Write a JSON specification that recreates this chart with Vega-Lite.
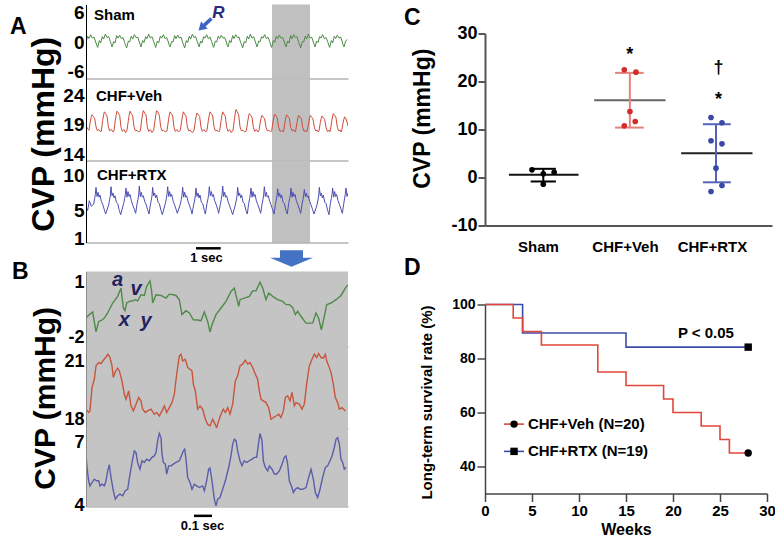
{
"$schema": "https://vega.github.io/schema/vega-lite/v6.json",
"padding": {"left": 10, "top": 3.5, "right": 0, "bottom": 0},
"background": "white",
"config": {
  "font": "Liberation Sans",
  "view": {"stroke": null},
  "axis": {"grid": false, "labelColor": "#000", "titleColor": "#000", "labelFontWeight": "bold", "titleFontWeight": "bold", "labelOverlap": false, "labelFlush": false, "labelBound": false},
  "point": {"opacity": 1},
  "text": {"color": "#000"}
},
"datasets": {
"sham": [{"x":0,"v":-0.1},{"x":5,"v":1.2},{"x":9,"v":0.7},{"x":14,"v":1.5},{"x":19,"v":0.8},{"x":24,"v":1.0},{"x":29,"v":0.0},{"x":32,"v":-0.6},
{"x":35,"v":-1.1},{"x":40,"v":0.3},{"x":44,"v":-0.2},{"x":49,"v":1.1},{"x":53,"v":0.6},{"x":58,"v":1.6},{"x":63,"v":0.9},{"x":68,"v":1.1},{"x":73,"v":0.1},{"x":76,"v":-0.5},
{"x":78,"v":-1.0},{"x":83,"v":0.1},{"x":87,"v":-0.2},{"x":92,"v":1.3},{"x":96,"v":0.8},{"x":101,"v":1.4},{"x":106,"v":0.7},{"x":111,"v":0.9},{"x":116,"v":-0.1},{"x":119,"v":-0.7},
{"x":122,"v":-1.2},{"x":127,"v":0.2},{"x":131,"v":0.0},{"x":136,"v":1.2},{"x":140,"v":0.6},{"x":145,"v":1.5},{"x":150,"v":0.9},{"x":155,"v":1.0},{"x":160,"v":0.0},{"x":163,"v":-0.6},
{"x":165,"v":-1.0},{"x":170,"v":0.3},{"x":174,"v":-0.1},{"x":179,"v":1.1},{"x":183,"v":0.7},{"x":188,"v":1.6},{"x":193,"v":0.8},{"x":198,"v":1.1},{"x":203,"v":0.1},{"x":206,"v":-0.5},
{"x":209,"v":-1.1},{"x":214,"v":0.2},{"x":218,"v":-0.2},{"x":223,"v":1.2},{"x":227,"v":0.8},{"x":232,"v":1.5},{"x":237,"v":0.7},{"x":242,"v":0.9},{"x":247,"v":0.0},{"x":250,"v":-0.7},
{"x":252,"v":-1.0},{"x":257,"v":0.1},{"x":261,"v":0.0},{"x":266,"v":1.3},{"x":270,"v":0.7},{"x":275,"v":1.4},{"x":280,"v":0.8},{"x":285,"v":1.0},{"x":290,"v":-0.1},{"x":293,"v":-0.6},
{"x":296,"v":-1.2},{"x":301,"v":0.3},{"x":305,"v":-0.1},{"x":310,"v":1.2},{"x":314,"v":0.6},{"x":319,"v":1.6},{"x":324,"v":0.9},{"x":329,"v":1.1},{"x":334,"v":0.0},{"x":337,"v":-0.5},
{"x":339,"v":-1.0},{"x":344,"v":0.2},{"x":348,"v":-0.2},{"x":353,"v":1.1},{"x":357,"v":0.8},{"x":362,"v":1.5},{"x":367,"v":0.7},{"x":372,"v":1.0},{"x":377,"v":0.1},{"x":380,"v":-0.6},
{"x":383,"v":-1.1},{"x":388,"v":0.2},{"x":392,"v":0.0},{"x":397,"v":1.2},{"x":401,"v":0.7},{"x":406,"v":1.4},{"x":411,"v":0.8},{"x":416,"v":0.9},{"x":421,"v":0.0},{"x":424,"v":-0.7},
{"x":426,"v":-1.0},{"x":431,"v":0.3},{"x":435,"v":-0.1},{"x":440,"v":1.3},{"x":444,"v":0.7},{"x":449,"v":1.5},{"x":454,"v":0.9},{"x":459,"v":1.0},{"x":464,"v":-0.1},{"x":467,"v":-0.6},
{"x":470,"v":-1.2},{"x":475,"v":0.1},{"x":479,"v":-0.2},{"x":484,"v":1.2},{"x":488,"v":0.6},{"x":493,"v":1.6},{"x":498,"v":0.8},{"x":503,"v":1.1},{"x":508,"v":0.0},{"x":511,"v":-0.5},
{"x":513,"v":-1.0},{"x":518,"v":0.2},{"x":522,"v":0.0},{"x":527,"v":1.1},{"x":531,"v":0.8},{"x":536,"v":1.5},{"x":541,"v":0.7},{"x":546,"v":1.0},{"x":551,"v":0.1},{"x":554,"v":-0.6},
{"x":557,"v":-1.1},{"x":562,"v":0.3},{"x":566,"v":-0.1},{"x":571,"v":1.2},{"x":575,"v":0.7},{"x":580,"v":1.4},{"x":585,"v":0.8},{"x":590,"v":0.9},{"x":595,"v":0.0},{"x":598,"v":-0.7},
{"x":600,"v":-1.0},{"x":605,"v":0.2},{"x":609,"v":-0.2},{"x":614,"v":1.3},{"x":618,"v":0.7},{"x":623,"v":1.5},{"x":628,"v":0.9},{"x":633,"v":1.1},{"x":638,"v":-0.1},{"x":641,"v":-0.6},
{"x":644,"v":-1.2},{"x":649,"v":0.1},{"x":653,"v":0.0},{"x":658,"v":1.2},{"x":662,"v":0.6},{"x":667,"v":1.6},{"x":672,"v":0.8},{"x":677,"v":1.0},{"x":682,"v":0.0},{"x":685,"v":-0.5},
{"x":687,"v":-1.0},{"x":692,"v":0.2},{"x":696,"v":-0.1},{"x":701,"v":1.1},{"x":705,"v":0.8},{"x":710,"v":1.5},{"x":715,"v":0.7},{"x":720,"v":0.9},{"x":725,"v":0.1},{"x":728,"v":-0.6},
{"x":731,"v":-1.1},{"x":736,"v":0.3},{"x":740,"v":-0.2},{"x":745,"v":1.2},{"x":749,"v":0.7},{"x":754,"v":1.4},{"x":759,"v":0.8},{"x":764,"v":1.0},{"x":769,"v":0.0},{"x":772,"v":-0.7},
{"x":774,"v":-1.0},{"x":779,"v":0.2},{"x":784,"v":0.5}],
"veh": [{"x":0,"v":18.9},{"x":5,"v":18.3},{"x":9,"v":18.1},{"x":13,"v":19.6},{"x":16,"v":20.4},{"x":18,"v":20.7},{"x":22,"v":20.4},{"x":26,"v":20.1},{"x":30,"v":18.7},{"x":34,"v":18.0},{"x":39,"v":18.2},{"x":44,"v":17.8},
{"x":46,"v":18.0},{"x":50,"v":19.7},{"x":53,"v":20.7},{"x":55,"v":21.2},{"x":59,"v":20.9},{"x":63,"v":20.5},{"x":67,"v":18.7},{"x":71,"v":18.0},{"x":76,"v":18.2},{"x":81,"v":17.8},
{"x":84,"v":18.0},{"x":88,"v":19.8},{"x":91,"v":20.8},{"x":93,"v":21.3},{"x":97,"v":21.0},{"x":101,"v":20.6},{"x":105,"v":18.6},{"x":109,"v":17.9},{"x":114,"v":18.2},{"x":119,"v":17.7},
{"x":123,"v":18.1},{"x":127,"v":19.7},{"x":130,"v":20.8},{"x":132,"v":21.3},{"x":136,"v":20.9},{"x":140,"v":20.5},{"x":144,"v":18.7},{"x":148,"v":18.0},{"x":153,"v":18.1},{"x":158,"v":17.8},
{"x":163,"v":18.0},{"x":167,"v":19.8},{"x":170,"v":20.9},{"x":172,"v":21.4},{"x":176,"v":21.0},{"x":180,"v":20.7},{"x":184,"v":18.6},{"x":188,"v":17.9},{"x":193,"v":18.2},{"x":198,"v":17.7},
{"x":203,"v":18.1},{"x":207,"v":19.7},{"x":210,"v":20.9},{"x":212,"v":21.4},{"x":216,"v":21.1},{"x":220,"v":20.6},{"x":224,"v":18.7},{"x":228,"v":18.0},{"x":233,"v":18.1},{"x":238,"v":17.8},
{"x":243,"v":18.0},{"x":247,"v":19.6},{"x":250,"v":20.7},{"x":252,"v":21.2},{"x":256,"v":20.9},{"x":260,"v":20.5},{"x":264,"v":18.6},{"x":268,"v":17.9},{"x":273,"v":18.2},{"x":278,"v":17.8},
{"x":283,"v":18.1},{"x":287,"v":19.7},{"x":290,"v":20.7},{"x":292,"v":21.2},{"x":296,"v":20.8},{"x":300,"v":20.5},{"x":304,"v":18.7},{"x":308,"v":18.0},{"x":313,"v":18.1},{"x":318,"v":17.7},
{"x":324,"v":18.0},{"x":328,"v":19.6},{"x":331,"v":20.6},{"x":333,"v":21.0},{"x":337,"v":20.7},{"x":341,"v":20.4},{"x":345,"v":18.6},{"x":349,"v":17.9},{"x":354,"v":18.2},{"x":359,"v":17.8},
{"x":363,"v":18.1},{"x":367,"v":19.7},{"x":370,"v":20.7},{"x":372,"v":21.2},{"x":376,"v":20.9},{"x":380,"v":20.5},{"x":384,"v":18.7},{"x":388,"v":18.0},{"x":393,"v":18.1},{"x":398,"v":17.8},
{"x":401,"v":18.0},{"x":405,"v":19.6},{"x":408,"v":20.7},{"x":410,"v":21.2},{"x":414,"v":20.8},{"x":418,"v":20.4},{"x":422,"v":18.6},{"x":426,"v":17.9},{"x":431,"v":18.2},{"x":436,"v":17.7},
{"x":441,"v":18.1},{"x":445,"v":19.8},{"x":448,"v":21.0},{"x":450,"v":21.6},{"x":454,"v":21.2},{"x":458,"v":20.7},{"x":462,"v":18.7},{"x":466,"v":18.0},{"x":471,"v":18.1},{"x":476,"v":17.8},
{"x":481,"v":18.0},{"x":485,"v":19.5},{"x":488,"v":20.5},{"x":490,"v":20.9},{"x":494,"v":20.6},{"x":498,"v":20.3},{"x":502,"v":18.6},{"x":506,"v":17.9},{"x":511,"v":18.2},{"x":516,"v":17.8},
{"x":519,"v":18.1},{"x":523,"v":19.5},{"x":526,"v":20.3},{"x":528,"v":20.6},{"x":532,"v":20.3},{"x":536,"v":20.0},{"x":540,"v":18.6},{"x":544,"v":18.0},{"x":549,"v":18.1},{"x":554,"v":17.8},
{"x":557,"v":18.0},{"x":561,"v":19.5},{"x":564,"v":20.4},{"x":566,"v":20.8},{"x":570,"v":20.5},{"x":574,"v":20.1},{"x":578,"v":18.6},{"x":582,"v":17.9},{"x":587,"v":18.1},{"x":591,"v":17.8},
{"x":593,"v":18.0},{"x":597,"v":19.5},{"x":600,"v":20.4},{"x":602,"v":20.7},{"x":606,"v":20.4},{"x":610,"v":20.1},{"x":614,"v":18.6},{"x":618,"v":18.0},{"x":623,"v":18.2},{"x":627,"v":17.8},
{"x":629,"v":18.0},{"x":633,"v":19.4},{"x":636,"v":20.3},{"x":638,"v":20.6},{"x":642,"v":20.3},{"x":646,"v":20.0},{"x":650,"v":18.6},{"x":654,"v":17.9},{"x":659,"v":18.1},{"x":662,"v":17.8},
{"x":664,"v":18.0},{"x":668,"v":19.4},{"x":671,"v":20.3},{"x":673,"v":20.6},{"x":677,"v":20.3},{"x":681,"v":20.0},{"x":685,"v":18.6},{"x":689,"v":18.0},{"x":694,"v":18.1},{"x":697,"v":17.8},
{"x":699,"v":18.0},{"x":703,"v":19.4},{"x":706,"v":20.2},{"x":708,"v":20.5},{"x":712,"v":20.2},{"x":716,"v":19.9},{"x":720,"v":18.6},{"x":724,"v":17.9},{"x":729,"v":18.1},{"x":731,"v":17.8},
{"x":733,"v":18.0},{"x":737,"v":19.5},{"x":740,"v":20.5},{"x":742,"v":20.9},{"x":746,"v":20.6},{"x":750,"v":20.2},{"x":754,"v":18.6},{"x":758,"v":18.0},{"x":763,"v":18.1},{"x":765,"v":17.8},
{"x":767,"v":18.0},{"x":771,"v":19.3},{"x":774,"v":20.0},{"x":776,"v":20.35},{"x":780,"v":20.0},{"x":784,"v":19.3},{"x":786,"v":18.8}],
"rtx": [{"x":0,"v":5.5},{"x":5,"v":5.0},{"x":10,"v":6.4},{"x":16,"v":5.6},
{"x":23,"v":5.9},{"x":26,"v":6.7},{"x":28,"v":7.3},{"x":30,"v":8.3},{"x":33,"v":7.0},{"x":36,"v":7.6},{"x":39,"v":6.9},{"x":42,"v":7.2},{"x":46,"v":6.3},{"x":50,"v":5.9},{"x":55,"v":5.1},{"x":59,"v":4.5},
{"x":68,"v":5.8},{"x":71,"v":6.6},{"x":73,"v":7.1},{"x":75,"v":8.4},{"x":78,"v":7.1},{"x":81,"v":7.5},{"x":84,"v":6.8},{"x":87,"v":7.1},{"x":91,"v":6.2},{"x":95,"v":6.0},{"x":100,"v":5.0},{"x":104,"v":4.4},
{"x":113,"v":6.0},{"x":116,"v":6.7},{"x":118,"v":7.3},{"x":120,"v":8.2},{"x":123,"v":6.9},{"x":126,"v":7.7},{"x":129,"v":7.0},{"x":132,"v":7.3},{"x":136,"v":6.4},{"x":140,"v":5.8},{"x":145,"v":5.2},{"x":149,"v":4.6},
{"x":153,"v":5.9},{"x":156,"v":6.6},{"x":158,"v":7.2},{"x":160,"v":8.5},{"x":163,"v":7.0},{"x":166,"v":7.6},{"x":169,"v":6.9},{"x":172,"v":7.1},{"x":176,"v":6.3},{"x":180,"v":5.9},{"x":185,"v":5.1},{"x":189,"v":4.5},
{"x":193,"v":5.8},{"x":196,"v":6.5},{"x":198,"v":7.1},{"x":200,"v":8.3},{"x":203,"v":7.1},{"x":206,"v":7.5},{"x":209,"v":6.8},{"x":212,"v":7.2},{"x":216,"v":6.2},{"x":220,"v":6.0},{"x":225,"v":5.0},{"x":229,"v":4.4},
{"x":238,"v":6.0},{"x":241,"v":6.7},{"x":243,"v":7.3},{"x":245,"v":8.4},{"x":248,"v":7.0},{"x":251,"v":7.7},{"x":254,"v":7.0},{"x":257,"v":7.3},{"x":261,"v":6.4},{"x":265,"v":5.9},{"x":270,"v":5.2},{"x":274,"v":4.6},
{"x":283,"v":5.9},{"x":286,"v":6.6},{"x":288,"v":7.2},{"x":290,"v":8.3},{"x":293,"v":6.9},{"x":296,"v":7.6},{"x":299,"v":6.9},{"x":302,"v":7.1},{"x":306,"v":6.3},{"x":310,"v":5.8},{"x":315,"v":5.1},{"x":318,"v":4.5},
{"x":323,"v":5.8},{"x":326,"v":6.5},{"x":328,"v":7.1},{"x":330,"v":8.2},{"x":333,"v":7.0},{"x":336,"v":7.5},{"x":339,"v":6.8},{"x":342,"v":7.2},{"x":346,"v":6.2},{"x":350,"v":6.0},{"x":355,"v":5.0},{"x":358,"v":4.5},
{"x":363,"v":6.0},{"x":366,"v":6.7},{"x":368,"v":7.3},{"x":370,"v":8.4},{"x":373,"v":7.1},{"x":376,"v":7.7},{"x":379,"v":7.0},{"x":382,"v":7.3},{"x":386,"v":6.4},{"x":390,"v":5.9},{"x":395,"v":5.2},{"x":398,"v":4.6},
{"x":403,"v":5.9},{"x":406,"v":6.6},{"x":408,"v":7.2},{"x":410,"v":8.5},{"x":413,"v":7.0},{"x":416,"v":7.6},{"x":419,"v":6.9},{"x":422,"v":7.1},{"x":426,"v":6.3},{"x":430,"v":5.8},{"x":435,"v":5.1},{"x":440,"v":4.4},
{"x":448,"v":5.8},{"x":451,"v":6.5},{"x":453,"v":7.1},{"x":455,"v":8.3},{"x":458,"v":7.1},{"x":461,"v":7.5},{"x":464,"v":6.8},{"x":467,"v":7.2},{"x":471,"v":6.2},{"x":475,"v":6.0},{"x":480,"v":5.0},{"x":484,"v":4.5},
{"x":488,"v":6.0},{"x":491,"v":6.7},{"x":493,"v":7.3},{"x":495,"v":8.2},{"x":498,"v":6.9},{"x":501,"v":7.7},{"x":504,"v":7.0},{"x":507,"v":7.3},{"x":511,"v":6.4},{"x":515,"v":5.9},{"x":520,"v":5.2},{"x":524,"v":4.6},
{"x":528,"v":5.9},{"x":531,"v":6.6},{"x":533,"v":7.2},{"x":535,"v":8.4},{"x":538,"v":7.0},{"x":541,"v":7.6},{"x":544,"v":6.9},{"x":547,"v":7.1},{"x":551,"v":6.3},{"x":555,"v":5.8},{"x":560,"v":5.1},{"x":564,"v":4.5},
{"x":568,"v":5.8},{"x":571,"v":6.5},{"x":573,"v":7.1},{"x":575,"v":8.1},{"x":578,"v":7.0},{"x":581,"v":7.5},{"x":584,"v":6.8},{"x":587,"v":7.2},{"x":591,"v":6.2},{"x":595,"v":6.0},{"x":600,"v":5.0},{"x":604,"v":4.5},
{"x":608,"v":6.0},{"x":611,"v":6.7},{"x":613,"v":7.2},{"x":615,"v":8.2},{"x":618,"v":6.9},{"x":621,"v":7.6},{"x":624,"v":7.0},{"x":627,"v":7.3},{"x":631,"v":6.4},{"x":635,"v":5.9},{"x":640,"v":5.2},{"x":644,"v":4.6},
{"x":648,"v":5.9},{"x":651,"v":6.6},{"x":653,"v":7.2},{"x":655,"v":8.0},{"x":658,"v":7.0},{"x":661,"v":7.5},{"x":664,"v":6.9},{"x":667,"v":7.1},{"x":671,"v":6.3},{"x":675,"v":5.8},{"x":680,"v":5.1},{"x":684,"v":4.5},
{"x":693,"v":5.8},{"x":696,"v":6.5},{"x":698,"v":7.1},{"x":700,"v":8.3},{"x":703,"v":7.1},{"x":706,"v":7.5},{"x":709,"v":6.8},{"x":712,"v":7.2},{"x":716,"v":6.2},{"x":720,"v":6.0},{"x":725,"v":5.0},{"x":729,"v":4.4},
{"x":733,"v":6.0},{"x":736,"v":6.7},{"x":738,"v":7.3},{"x":740,"v":8.2},{"x":743,"v":6.9},{"x":746,"v":7.7},{"x":749,"v":7.0},{"x":752,"v":7.3},{"x":756,"v":6.4},{"x":760,"v":5.9},{"x":765,"v":5.2},{"x":769,"v":4.6},
{"x":773,"v":5.9},{"x":776,"v":6.8},{"x":778,"v":7.4},{"x":780,"v":8.2},{"x":783,"v":7.0},{"x":786,"v":7.5}],
"b1": [{"x":0,"v":-0.95},{"x":10,"v":-0.76},{"x":20,"v":-0.62},{"x":30,"v":-1.70},{"x":38,"v":-1.13},{"x":45,"v":-1.09},{"x":55,"v":-0.95},{"x":65,"v":-0.67},{"x":80,"v":-0.13},{"x":95,"v":0.23},{"x":105,"v":0.68},{"x":112,"v":-0.40},{"x":117,"v":-0.55},{"x":122,"v":-0.13},{"x":130,"v":-0.04},{"x":140,"v":-0.01},{"x":148,"v":0.05},{"x":155,"v":-0.01},{"x":165,"v":0.32},{"x":175,"v":0.28},{"x":182,"v":0.77},{"x":192,"v":1.07},{"x":197,"v":0.50},{"x":200,"v":-0.13},{"x":210,"v":0.32},{"x":225,"v":0.28},{"x":240,"v":0.14},{"x":250,"v":0.35},{"x":262,"v":0.32},{"x":270,"v":0.28},{"x":280,"v":0.05},{"x":288,"v":-0.76},{"x":300,"v":-0.55},{"x":310,"v":-0.67},{"x":322,"v":-1.04},{"x":335,"v":-1.05},{"x":345,"v":-1.09},{"x":355,"v":-0.62},{"x":365,"v":-1.13},{"x":372,"v":-1.70},{"x":378,"v":-1.31},{"x":390,"v":-0.76},{"x":405,"v":-0.40},{"x":420,"v":-0.04},{"x":435,"v":0.50},{"x":445,"v":0.68},{"x":458,"v":-0.31},{"x":462,"v":0.05},{"x":475,"v":0.14},{"x":490,"v":0.23},{"x":500,"v":0.53},{"x":510,"v":0.53},{"x":522,"v":1.00},{"x":530,"v":0.68},{"x":540,"v":0.05},{"x":548,"v":0.41},{"x":560,"v":0.23},{"x":575,"v":0.05},{"x":590,"v":-0.04},{"x":600,"v":-0.22},{"x":610,"v":-0.22},{"x":620,"v":-0.37},{"x":628,"v":-0.76},{"x":635,"v":-0.58},{"x":645,"v":-0.85},{"x":660,"v":-1.22},{"x":680,"v":-1.22},{"x":690,"v":-0.67},{"x":698,"v":-0.95},{"x":706,"v":-1.58},{"x":715,"v":-0.85},{"x":722,"v":-0.22},{"x":735,"v":-0.13},{"x":750,"v":0.05},{"x":765,"v":0.28},{"x":778,"v":0.68},{"x":786,"v":0.85}],
"b2": [{"x":0,"v":18.53},{"x":8,"v":18.36},{"x":12,"v":18.44},{"x":18,"v":19.64},{"x":25,"v":20.07},{"x":30,"v":20.76},{"x":38,"v":20.93},{"x":45,"v":20.88},{"x":52,"v":21.05},{"x":60,"v":21.22},{"x":66,"v":21.36},{"x":72,"v":21.19},{"x":78,"v":20.76},{"x":82,"v":20.16},{"x":88,"v":20.47},{"x":95,"v":20.64},{"x":100,"v":20.50},{"x":108,"v":19.99},{"x":115,"v":19.30},{"x":120,"v":19.04},{"x":128,"v":19.47},{"x":135,"v":18.70},{"x":142,"v":18.44},{"x":150,"v":18.79},{"x":158,"v":19.13},{"x":165,"v":18.96},{"x":170,"v":18.53},{"x":178,"v":18.36},{"x":185,"v":18.44},{"x":195,"v":18.53},{"x":205,"v":18.27},{"x":212,"v":18.36},{"x":220,"v":18.18},{"x":228,"v":18.44},{"x":235,"v":18.70},{"x":242,"v":18.36},{"x":250,"v":18.61},{"x":258,"v":18.87},{"x":265,"v":19.30},{"x":272,"v":20.33},{"x":280,"v":21.28},{"x":285,"v":21.36},{"x":290,"v":21.02},{"x":298,"v":21.10},{"x":305,"v":20.68},{"x":312,"v":20.59},{"x":318,"v":20.50},{"x":322,"v":19.82},{"x":328,"v":19.47},{"x":335,"v":18.53},{"x":342,"v":18.70},{"x":350,"v":18.53},{"x":358,"v":18.01},{"x":365,"v":17.75},{"x":372,"v":17.67},{"x":380,"v":18.01},{"x":385,"v":17.84},{"x":392,"v":17.58},{"x":398,"v":17.93},{"x":405,"v":18.27},{"x":412,"v":18.53},{"x":418,"v":18.36},{"x":425,"v":18.61},{"x":432,"v":18.27},{"x":440,"v":18.79},{"x":448,"v":19.99},{"x":455,"v":20.25},{"x":462,"v":20.76},{"x":470,"v":20.85},{"x":478,"v":21.05},{"x":485,"v":20.85},{"x":492,"v":20.93},{"x":500,"v":20.68},{"x":508,"v":20.33},{"x":515,"v":20.07},{"x":520,"v":19.47},{"x":525,"v":19.04},{"x":532,"v":18.96},{"x":540,"v":18.87},{"x":548,"v":18.61},{"x":555,"v":18.01},{"x":562,"v":18.10},{"x":570,"v":18.18},{"x":578,"v":18.27},{"x":585,"v":18.10},{"x":592,"v":18.44},{"x":598,"v":19.13},{"x":605,"v":19.22},{"x":612,"v":18.96},{"x":618,"v":19.39},{"x":625,"v":18.70},{"x":630,"v":18.87},{"x":640,"v":18.79},{"x":648,"v":18.53},{"x":655,"v":18.79},{"x":662,"v":19.82},{"x":670,"v":20.76},{"x":678,"v":21.10},{"x":685,"v":21.36},{"x":692,"v":21.19},{"x":698,"v":21.40},{"x":705,"v":21.19},{"x":712,"v":21.16},{"x":718,"v":21.36},{"x":722,"v":21.02},{"x":728,"v":20.76},{"x":735,"v":20.42},{"x":742,"v":19.82},{"x":748,"v":19.13},{"x":755,"v":18.87},{"x":760,"v":18.53},{"x":768,"v":18.61},{"x":778,"v":18.44}],
"b3": [{"x":0,"v":6.43},{"x":3,"v":5.80},{"x":8,"v":5.17},{"x":12,"v":4.93},{"x":18,"v":5.09},{"x":25,"v":5.25},{"x":32,"v":5.17},{"x":38,"v":5.17},{"x":42,"v":4.93},{"x":48,"v":5.01},{"x":55,"v":4.93},{"x":60,"v":5.17},{"x":65,"v":5.64},{"x":70,"v":5.93},{"x":75,"v":5.33},{"x":82,"v":4.70},{"x":88,"v":4.30},{"x":95,"v":4.46},{"x":102,"v":4.54},{"x":110,"v":4.46},{"x":118,"v":4.70},{"x":125,"v":4.77},{"x":132,"v":5.49},{"x":140,"v":6.20},{"x":145,"v":6.59},{"x":150,"v":6.51},{"x":155,"v":6.04},{"x":162,"v":5.72},{"x":168,"v":6.12},{"x":175,"v":6.04},{"x":182,"v":6.20},{"x":190,"v":6.12},{"x":198,"v":6.28},{"x":205,"v":6.35},{"x":210,"v":6.51},{"x":215,"v":7.07},{"x":220,"v":7.41},{"x":225,"v":7.22},{"x":228,"v":6.43},{"x":232,"v":6.04},{"x":238,"v":5.96},{"x":242,"v":5.49},{"x":248,"v":5.88},{"x":255,"v":5.88},{"x":262,"v":5.96},{"x":270,"v":6.04},{"x":280,"v":6.12},{"x":288,"v":6.43},{"x":292,"v":6.59},{"x":296,"v":6.67},{"x":300,"v":6.20},{"x":305,"v":5.33},{"x":312,"v":5.09},{"x":318,"v":4.77},{"x":325,"v":5.01},{"x":332,"v":4.93},{"x":340,"v":4.85},{"x":350,"v":4.93},{"x":355,"v":4.70},{"x":362,"v":5.17},{"x":368,"v":5.72},{"x":372,"v":5.77},{"x":378,"v":5.17},{"x":385,"v":4.30},{"x":390,"v":3.98},{"x":395,"v":4.30},{"x":402,"v":4.38},{"x":410,"v":4.77},{"x":418,"v":5.17},{"x":428,"v":5.80},{"x":435,"v":6.35},{"x":440,"v":6.91},{"x":445,"v":7.14},{"x":450,"v":7.07},{"x":455,"v":6.59},{"x":462,"v":6.12},{"x":468,"v":5.88},{"x":475,"v":6.12},{"x":482,"v":6.04},{"x":490,"v":6.12},{"x":498,"v":6.20},{"x":505,"v":6.28},{"x":512,"v":6.28},{"x":518,"v":6.99},{"x":522,"v":7.41},{"x":528,"v":7.07},{"x":532,"v":6.12},{"x":538,"v":5.80},{"x":545,"v":5.64},{"x":550,"v":5.88},{"x":558,"v":5.72},{"x":565,"v":5.49},{"x":572,"v":5.49},{"x":580,"v":5.64},{"x":588,"v":5.96},{"x":595,"v":6.28},{"x":600,"v":6.35},{"x":605,"v":5.96},{"x":610,"v":5.17},{"x":618,"v":4.85},{"x":622,"v":4.62},{"x":628,"v":4.77},{"x":635,"v":4.85},{"x":642,"v":4.77},{"x":650,"v":4.77},{"x":660,"v":4.85},{"x":668,"v":5.33},{"x":675,"v":5.72},{"x":682,"v":5.25},{"x":688,"v":4.62},{"x":695,"v":4.38},{"x":702,"v":4.77},{"x":710,"v":5.33},{"x":718,"v":5.80},{"x":725,"v":5.88},{"x":732,"v":6.12},{"x":738,"v":6.35},{"x":745,"v":6.75},{"x":750,"v":7.14},{"x":755,"v":7.22},{"x":760,"v":6.91},{"x":765,"v":6.20},{"x":770,"v":6.04},{"x":775,"v":5.72},{"x":780,"v":5.80}],
"cstats": [{"g":"Sham","c":1.015,"m":0.56,"lo":-0.83,"hi":1.81,"ml":0.62,"mr":1.42,"cl":0.87,"cr":1.16},{"g":"Veh","c":2.01,"m":16.1,"lo":10.4,"hi":21.8,"ml":1.6,"mr":2.42,"cl":1.84,"cr":2.17},{"g":"RTX","c":3.0,"m":5.06,"lo":-1.0,"hi":11.1,"ml":2.6,"mr":3.42,"cl":2.85,"cr":3.17}],
"cdots": [{"g":"Sham","x":0.885,"v":1.6},{"g":"Sham","x":1.015,"v":0.77},{"g":"Sham","x":1.14,"v":1.1},{"g":"Sham","x":1.015,"v":-1.4},{"g":"Veh","x":1.946,"v":22.44},{"g":"Veh","x":2.08,"v":21.94},{"g":"Veh","x":2.011,"v":13.75},{"g":"Veh","x":2.072,"v":11.67},{"g":"Veh","x":1.946,"v":10.77},{"g":"RTX","x":2.943,"v":12.5},{"g":"RTX","x":3.069,"v":11.4},{"g":"RTX","x":2.943,"v":7.65},{"g":"RTX","x":3.069,"v":7.02},{"g":"RTX","x":3.0,"v":1.94},{"g":"RTX","x":3.069,"v":-1.67},{"g":"RTX","x":2.943,"v":-2.92}],
"survVeh": [{"w":0,"s":100},{"w":3,"s":95},{"w":4,"s":90},{"w":6,"s":85},{"w":12,"s":75},{"w":15,"s":70},{"w":19,"s":65},{"w":20,"s":60},{"w":23,"s":55},{"w":25,"s":50},{"w":26,"s":45},{"w":28,"s":45}],
"survRTX": [{"w":0,"s":100},{"w":4,"s":89.47},{"w":15,"s":84.21},{"w":28,"s":84.21}],
"dend": [{"g":"Veh","w":28,"s":45},{"g":"RTX","w":28,"s":84.21}],
"dleg": [{"g":"Veh","w1":2.02,"w2":4.15,"wm":3.09,"wt":4.57,"s":55.7,"t":"CHF+Veh (N=20)"},{"g":"RTX","w1":2.02,"w2":4.15,"wm":3.09,"wt":4.57,"s":45.6,"t":"CHF+RTX (N=19)"}]
},
"hconcat": [
{
"vconcat": [
{
 "width": 262, "height": 74,
 "encoding": {
  "x": {"field":"x","type":"quantitative","scale":{"domain":[0,786],"nice":false,"zero":false},"axis":{"orient":"bottom","labels":false,"ticks":false,"title":null,"domainColor":"#8c8c8c","zindex":1}},
  "y": {"field":"v","type":"quantitative","scale":{"domain":[-7.42,7.63],"nice":false,"zero":false},"axis":{"values":[-6,0,6],"labelExpr":"''+datum.value","labelFontSize":19,"ticks":false,"tickSize":0,"labelPadding":2,"domainColor":"#000","zindex":1,"title":null}}
 },
 "layer": [
  {"data":{"values":[{"x":558,"x2":672,"v":-7.42,"v2":7.63}]},"mark":{"type":"rect","color":"#c0c0c0"},"encoding":{"x2":{"field":"x2"},"y2":{"field":"v2"}}},
  {"data":{"name":"sham"},"mark":{"type":"line","color":"#4c8a45","strokeWidth":1,"clip":true}},
  {"data":{"values":[{"x":24,"v":5.59,"t":"Sham"}]},"mark":{"type":"text","align":"left","baseline":"middle","fontSize":15,"fontWeight":"bold"},"encoding":{"text":{"field":"t"}}},
  {"data":{"values":[{"x":397.5,"v":6.0,"t":"R"}]},"mark":{"type":"text","align":"center","baseline":"middle","fontSize":17,"fontWeight":"bold","fontStyle":"italic","color":"#2b2b7e"},"encoding":{"text":{"field":"t"}}},
  {"data":{"values":[{"x":357,"v":3.56}]},"mark":{"type":"point","shape":"M0,-1L0.55,-0.1L0.2,-0.1L0.2,1L-0.2,1L-0.2,-0.1L-0.55,-0.1Z","size":313,"angle":227,"filled":true,"color":"#3d64c4","opacity":1}},
  {"data":{"values":[{"x":-228,"v":3.05,"t":"A"}]},"mark":{"type":"text","align":"left","baseline":"middle","fontSize":23,"fontWeight":"bold"},"encoding":{"text":{"field":"t"}}}
 ]
},
{
 "width": 262, "height": 82,
 "encoding": {
  "x": {"field":"x","type":"quantitative","scale":{"domain":[0,786],"nice":false,"zero":false},"axis":{"orient":"bottom","labels":false,"ticks":false,"title":null,"domainColor":"#8c8c8c","zindex":1}},
  "y": {"field":"v","type":"quantitative","scale":{"domain":[12.99,26.82],"nice":false,"zero":false},"axis":{"values":[14,19,24],"labelFontSize":19,"ticks":false,"tickSize":0,"labelPadding":2,"domainColor":"#000","zindex":1,"title":"CVP (mmHg)","titleFontSize":32,"titleX":-26,"titleY":55.3,"titleAngle":270,"titleAlign":"center","titleBaseline":"bottom"}}
 },
 "layer": [
  {"data":{"values":[{"x":558,"x2":672,"v":12.99,"v2":26.82}]},"mark":{"type":"rect","color":"#c0c0c0"},"encoding":{"x2":{"field":"x2"},"y2":{"field":"v2"}}},
  {"data":{"name":"veh"},"mark":{"type":"line","color":"#cf4b3b","strokeWidth":1,"clip":true}},
  {"data":{"values":[{"x":30,"v":23.95,"t":"CHF+Veh"}]},"mark":{"type":"text","align":"left","baseline":"middle","fontSize":15,"fontWeight":"bold"},"encoding":{"text":{"field":"t"}}}
 ]
},
{
 "width": 262, "height": 82,
 "encoding": {
  "x": {"field":"x","type":"quantitative","scale":{"domain":[0,786],"nice":false,"zero":false},"axis":{"orient":"bottom","labels":false,"ticks":false,"title":null,"domainColor":"#8c8c8c","zindex":1}},
  "y": {"field":"v","type":"quantitative","scale":{"domain":[0.43,12.14],"nice":false,"zero":false},"axis":{"values":[1,5,10],"labelFontSize":19,"ticks":false,"tickSize":0,"labelPadding":2,"domainColor":"#000","zindex":1,"title":null}}
 },
 "layer": [
  {"data":{"values":[{"x":558,"x2":672,"v":0.43,"v2":12.14}]},"mark":{"type":"rect","color":"#c0c0c0"},"encoding":{"x2":{"field":"x2"},"y2":{"field":"v2"}}},
  {"data":{"name":"rtx"},"mark":{"type":"line","color":"#4b4fb0","strokeWidth":1,"clip":true}},
  {"data":{"values":[{"x":33,"v":10.14,"t":"CHF+RTX"}]},"mark":{"type":"text","align":"left","baseline":"middle","fontSize":15,"fontWeight":"bold"},"encoding":{"text":{"field":"t"}}},
  {"data":{"values":[{"x":330,"x2":404,"v":-0.4}]},"mark":{"type":"rule","color":"#000","strokeWidth":2.5},"encoding":{"x2":{"field":"x2"}}},
  {"data":{"values":[{"x":361.5,"v":-1.79,"t":"1 sec"}]},"mark":{"type":"text","align":"center","baseline":"middle","fontSize":13,"fontWeight":"bold"},"encoding":{"text":{"field":"t"}}},
  {"data":{"values":[{"x":616.5,"v":-1.86}]},"mark":{"type":"point","shape":"M-0.535,-0.38L0.535,-0.38L0.535,-0.04L1,-0.04L0,0.38L-1,-0.04L-0.535,-0.04Z","size":1849,"filled":true,"color":"#4472c4","opacity":1}}
 ]
},
{"width": 262, "height": 29, "data": {"values": []}, "mark": "point"},
{
 "width": 262, "height": 75,
 "view": {"fill": "#c4c4c4", "stroke": null},
 "encoding": {
  "x": {"field":"x","type":"quantitative","scale":{"domain":[0,786],"nice":false,"zero":false},"axis":{"orient":"bottom","labels":false,"ticks":false,"title":null,"domainColor":"#9a9a9a","zindex":1}},
  "y": {"field":"v","type":"quantitative","scale":{"domain":[-2.49,1.58],"nice":false,"zero":false},"axis":{"values":[-2,1],"labelExpr":"''+datum.value","labelFontSize":18,"ticks":false,"tickSize":0,"labelPadding":2,"domainColor":"#8a8a8a","zindex":1,"title":null}}
 },
 "layer": [
  {"data":{"name":"b1"},"mark":{"type":"line","color":"#4e8a48","strokeWidth":1.4,"clip":true}},
  {"data":{"values":[{"x":95,"v":1.13,"t":"a"},{"x":150,"v":0.61,"t":"v"},{"x":115,"v":-1.03,"t":"x"},{"x":180,"v":-1.12,"t":"y"}]},"mark":{"type":"text","align":"center","baseline":"middle","fontSize":20,"fontWeight":"bold","fontStyle":"italic","color":"#22225e"},"encoding":{"text":{"field":"t"}}},
  {"data":{"values":[{"x":-222,"v":1.55,"t":"B"}]},"mark":{"type":"text","align":"left","baseline":"middle","fontSize":23,"fontWeight":"bold"},"encoding":{"text":{"field":"t"}}}
 ]
},
{
 "width": 262, "height": 82,
 "view": {"fill": "#c4c4c4", "stroke": null},
 "encoding": {
  "x": {"field":"x","type":"quantitative","scale":{"domain":[0,786],"nice":false,"zero":false},"axis":{"orient":"bottom","labels":false,"ticks":false,"title":null,"domainColor":"#9a9a9a","zindex":1}},
  "y": {"field":"v","type":"quantitative","scale":{"domain":[17.536,21.758],"nice":false,"zero":false},"axis":{"values":[18,21],"labelFontSize":18,"ticks":false,"tickSize":0,"labelPadding":2,"domainColor":"#8a8a8a","zindex":1,"title":"CVP (mmHg)","titleFontSize":30,"titleX":-26,"titleY":51.3,"titleAngle":270,"titleAlign":"center","titleBaseline":"bottom"}}
 },
 "layer": [
  {"data":{"name":"b2"},"mark":{"type":"line","color":"#c8553e","strokeWidth":1.4,"clip":true}}
 ]
},
{
 "width": 262, "height": 78,
 "view": {"fill": "#c4c4c4", "stroke": null},
 "encoding": {
  "x": {"field":"x","type":"quantitative","scale":{"domain":[0,786],"nice":false,"zero":false},"axis":{"orient":"bottom","labels":false,"ticks":false,"title":null,"domainColor":"#9a9a9a","zindex":1}},
  "y": {"field":"v","type":"quantitative","scale":{"domain":[3.953,7.649],"nice":false,"zero":false},"axis":{"values":[4,7],"labelFontSize":18,"ticks":false,"tickSize":0,"labelPadding":2,"domainColor":"#8a8a8a","zindex":1,"title":null}}
 },
 "layer": [
  {"data":{"name":"b3"},"mark":{"type":"line","color":"#5a5eaa","strokeWidth":1.4,"clip":true}},
  {"data":{"values":[{"x":324,"x2":378,"v":3.51}]},"mark":{"type":"rule","color":"#000","strokeWidth":2.5},"encoding":{"x2":{"field":"x2"}}},
  {"data":{"values":[{"x":349.5,"v":3.02,"t":"0.1 sec"}]},"mark":{"type":"text","align":"center","baseline":"middle","fontSize":13,"fontWeight":"bold"},"encoding":{"text":{"field":"t"}}}
 ]
}
],
"spacing": 0,
"bounds": "flush"
},
{
"vconcat": [
{"width": 282, "height": 28.5, "data": {"values": []}, "mark": "point"},
{
 "width": 287, "height": 192,
 "resolve": {"scale": {"color": "independent"}},
 "layer": [
  {"data":{"name":"cstats"},"mark":{"type":"rule","strokeWidth":2},
   "encoding":{
    "x":{"field":"ml","type":"quantitative","scale":{"domain":[0.345,3.644],"nice":false,"zero":false},"axis":{"values":[1,2,3],"labelExpr":"datum.value==1?'Sham':datum.value==2?'CHF+Veh':'CHF+RTX'","ticks":false,"tickSize":0,"labelPadding":14,"labelFontSize":15,"labelOffset":-4,"title":null,"domainColor":"#555","domainWidth":2}},
    "x2":{"field":"mr"},
    "y":{"field":"m","type":"quantitative","scale":{"domain":[-10,30],"nice":false,"zero":false},"axis":{"values":[-10,0,10,20,30],"labelExpr":"''+datum.value","labelFontSize":18,"tickSize":7,"tickWidth":2,"labelPadding":1,"domainWidth":2,"domainColor":"#555","tickColor":"#555","title":"CVP (mmHg)","titleFontSize":23,"titleX":-51,"titleY":84.7,"titleAngle":270,"titleAlign":"center","titleBaseline":"bottom"}},
    "color":{"field":"g","type":"nominal","scale":{"domain":["Sham","Veh","RTX"],"range":["#111111","#666666","#222222"]},"legend":null}}},
  {"data":{"name":"cstats"},"mark":{"type":"rule","strokeWidth":2},
   "encoding":{"x":{"field":"c","type":"quantitative"},"y":{"field":"lo","type":"quantitative"},"y2":{"field":"hi"},
    "color":{"field":"g","type":"nominal","scale":{"domain":["Sham","Veh","RTX"],"range":["#000000","#e5817b","#5663b5"]},"legend":null}}},
  {"data":{"name":"cstats"},"mark":{"type":"rule","strokeWidth":2},
   "encoding":{"x":{"field":"cl","type":"quantitative"},"x2":{"field":"cr"},"y":{"field":"hi","type":"quantitative"},
    "color":{"field":"g","type":"nominal","scale":{"domain":["Sham","Veh","RTX"],"range":["#000000","#e5817b","#5663b5"]},"legend":null}}},
  {"data":{"name":"cstats"},"mark":{"type":"rule","strokeWidth":2},
   "encoding":{"x":{"field":"cl","type":"quantitative"},"x2":{"field":"cr"},"y":{"field":"lo","type":"quantitative"},
    "color":{"field":"g","type":"nominal","scale":{"domain":["Sham","Veh","RTX"],"range":["#000000","#e5817b","#5663b5"]},"legend":null}}},
  {"data":{"name":"cdots"},"mark":{"type":"point","filled":true,"size":32,"opacity":1},
   "encoding":{"x":{"field":"x","type":"quantitative"},"y":{"field":"v","type":"quantitative"},
    "color":{"field":"g","type":"nominal","scale":{"domain":["Sham","Veh","RTX"],"range":["#000000","#d42b2b","#3b47a6"]},"legend":null}}},
  {"data":{"values":[{"x":2.01,"v":24.5,"t":"*"},{"x":3.03,"v":21.7,"t":"†"},{"x":3.03,"v":15.15,"t":"*"}]},"mark":{"type":"text","align":"center","baseline":"alphabetic","fontSize":18,"fontWeight":"bold"},
   "encoding":{"x":{"field":"x","type":"quantitative"},"y":{"field":"v","type":"quantitative"},"text":{"field":"t"}}},
  {"data":{"values":[{"x":-0.586,"v":33.23,"t":"C"}]},"mark":{"type":"text","align":"left","baseline":"middle","fontSize":23,"fontWeight":"bold"},
   "encoding":{"x":{"field":"x","type":"quantitative"},"y":{"field":"v","type":"quantitative"},"text":{"field":"t"}}}
 ]
},
{"width": 282, "height": 79, "data": {"values": []}, "mark": "point"},
{
 "width": 282, "height": 189,
 "layer": [
  {"data":{"name":"survRTX"},"mark":{"type":"line","interpolate":"step-after","strokeWidth":1.6,"color":"#3d4ba8"},
   "encoding":{
    "x":{"field":"w","type":"quantitative","scale":{"domain":[0,30],"nice":false,"zero":false},"axis":{"values":[0,5,10,15,20,25,30],"labelFontSize":15,"tickSize":8,"labelPadding":2,"title":"Weeks","titleFontSize":16,"titlePadding":3,"domainColor":"#444","tickColor":"#444","domainWidth":1.5,"tickWidth":1.5}},
    "y":{"field":"s","type":"quantitative","scale":{"domain":[30,100],"nice":false,"zero":false},"axis":{"values":[40,60,80,100],"labelFontSize":14,"tickSize":8,"labelPadding":2,"title":"Long-term survival rate (%)","titleFontSize":15,"titleX":-51,"titleY":97.5,"titleAngle":270,"titleAlign":"center","titleBaseline":"bottom","domainColor":"#444","tickColor":"#444","domainWidth":1.5,"tickWidth":1.5}}}},
  {"data":{"name":"survVeh"},"mark":{"type":"line","interpolate":"step-after","strokeWidth":1.6,"color":"#e0463a"},
   "encoding":{"x":{"field":"w","type":"quantitative"},"y":{"field":"s","type":"quantitative"}}},
  {"data":{"name":"dend"},"mark":{"type":"point","filled":true,"opacity":1,"color":"#000","size":55},
   "encoding":{"x":{"field":"w","type":"quantitative"},"y":{"field":"s","type":"quantitative"},
    "shape":{"field":"g","type":"nominal","scale":{"domain":["Veh","RTX"],"range":["circle","square"]},"legend":null}}},
  {"data":{"name":"dleg"},"mark":{"type":"rule","strokeWidth":1.6},
   "encoding":{"x":{"field":"w1","type":"quantitative"},"x2":{"field":"w2"},"y":{"field":"s","type":"quantitative"},
    "color":{"field":"g","type":"nominal","scale":{"domain":["Veh","RTX"],"range":["#e0463a","#3d4ba8"]},"legend":null}}},
  {"data":{"name":"dleg"},"mark":{"type":"point","filled":true,"opacity":1,"color":"#000","size":55},
   "encoding":{"x":{"field":"wm","type":"quantitative"},"y":{"field":"s","type":"quantitative"},
    "shape":{"field":"g","type":"nominal","legend":null}}},
  {"data":{"name":"dleg"},"mark":{"type":"text","align":"left","baseline":"middle","fontSize":15,"fontWeight":"bold"},
   "encoding":{"x":{"field":"wt","type":"quantitative"},"y":{"field":"s","type":"quantitative"},"text":{"field":"t"}}},
  {"data":{"values":[{"w":23.5,"s":89.6,"t":"P < 0.05"}]},"mark":{"type":"text","align":"center","baseline":"middle","fontSize":15,"fontWeight":"bold"},
   "encoding":{"x":{"field":"w","type":"quantitative"},"y":{"field":"s","type":"quantitative"},"text":{"field":"t"}}},
  {"data":{"values":[{"w":-8.62,"s":113.5,"t":"D"}]},"mark":{"type":"text","align":"left","baseline":"middle","fontSize":23,"fontWeight":"bold"},
   "encoding":{"x":{"field":"w","type":"quantitative"},"y":{"field":"s","type":"quantitative"},"text":{"field":"t"}}}
 ]
}
],
"spacing": 0,
"bounds": "flush"
}
],
"spacing": 55
}
